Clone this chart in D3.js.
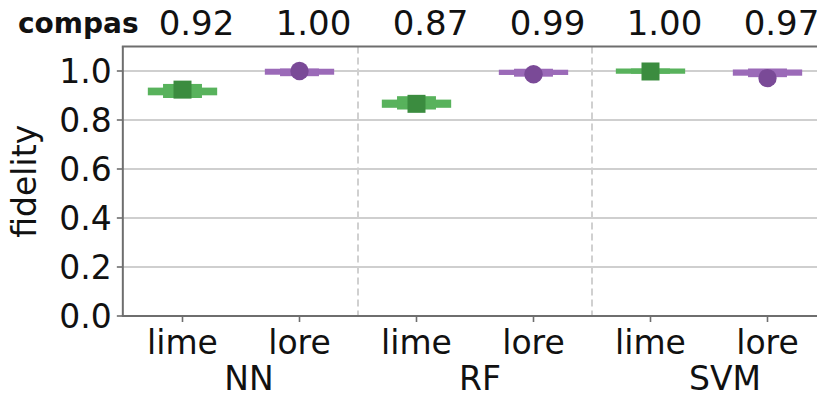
<!DOCTYPE html>
<html>
<head>
<meta charset="utf-8">
<script src="https://cdn.jsdelivr.net/npm/d3@7"></script>
<style>
  html, body { margin: 0; padding: 0; background: #fff; }
  svg { display: block; }
  text { font-family: "DejaVu Sans", sans-serif; fill: #111; }
</style>
</head>
<body>
<svg id="chart" width="817" height="397"></svg>
<script>
// ---- data ----
const dataset = "compas";
const models = ["NN", "RF", "SVM"];
const methods = ["lime", "lore", "lime", "lore", "lime", "lore"];
const scoreLabels = ["0.92", "1.00", "0.87", "0.99", "1.00", "0.97"];
const whiskerLow  = [0.911, 0.995, 0.860, 0.994, 0.999, 0.991];
const whiskerHigh = [0.922, 0.999, 0.873, 0.995, 1.000, 0.996];
const boxLow      = [0.900, 0.989, 0.853, 0.987, 0.999, 0.985];
const boxHigh     = [0.937, 1.000, 0.887, 0.999, 1.000, 1.000];
const means       = [0.924, 1.000, 0.866, 0.987, 0.998, 0.971];
const yTicks = [0.0, 0.2, 0.4, 0.6, 0.8, 1.0];

// ---- style / layout ----
const W = 817, H = 397;
const colors = {
  lime: { band: "#58b25c", mark: "#3b8c3f" },
  lore: { band: "#9b6ab8", mark: "#7a4a97" }
};
const groupLabelOffset = [8, 5, 16];

const svg = d3.select("#chart");
const x = d3.scaleLinear().domain([0, 5]).range([182.5, 767.5]);
const y = d3.scaleLinear().domain([0, 1.1]).range([316, 46.5]);
const unit = x(1) - x(0);
const plotLeft = x(-0.51), plotRight = x(5.51);
const plotTop = y(1.1), plotBottom = y(0);

// grid lines
svg.append("g").selectAll("line").data(yTicks).join("line")
  .attr("x1", plotLeft).attr("x2", plotRight)
  .attr("y1", d => y(d)).attr("y2", d => y(d))
  .attr("stroke", "#cfcfcf").attr("stroke-width", 2);

// dashed dividers
svg.append("g").selectAll("line").data([1.5, 3.5]).join("line")
  .attr("x1", d => x(d)).attr("x2", d => x(d))
  .attr("y1", plotTop).attr("y2", plotBottom)
  .attr("stroke", "#d0d0d0").attr("stroke-width", 2)
  .attr("stroke-dasharray", "7,4");

// marks
const items = methods.map((m, i) => ({
  i, m, wl: whiskerLow[i], wh: whiskerHigh[i], bl: boxLow[i], bh: boxHigh[i], mean: means[i]
}));
const lw = 5;
const g = svg.append("g");
// whisker/cap band
g.selectAll("rect.cap").data(items).join("rect").attr("class", "cap")
  .attr("x", d => x(d.i) - unit * 0.275)
  .attr("width", unit * 0.55)
  .attr("y", d => y(d.wh))
  .attr("height", d => Math.max(0.01, y(d.wl) - y(d.wh)))
  .attr("fill", d => colors[d.m].band)
  .attr("stroke", d => colors[d.m].band).attr("stroke-width", lw);
// box band
g.selectAll("rect.box").data(items).join("rect").attr("class", "box")
  .attr("x", d => x(d.i) - unit * 0.145)
  .attr("width", unit * 0.29)
  .attr("y", d => y(d.bh))
  .attr("height", d => Math.max(0.01, y(d.bl) - y(d.bh)))
  .attr("fill", d => colors[d.m].band)
  .attr("stroke", d => colors[d.m].band).attr("stroke-width", lw);
// mean markers
g.selectAll("path.mean").data(items).join("path").attr("class", "mean")
  .attr("transform", d => `translate(${x(d.i)},${y(d.mean)})`)
  .attr("d", d => d.m === "lime"
    ? d3.symbol(d3.symbolSquare, 18 * 18)()
    : d3.symbol(d3.symbolCircle, Math.PI * 9.2 * 9.2)())
  .attr("fill", d => colors[d.m].mark);

// spines
const spine = "#6e6e6e";
svg.append("line").attr("x1", plotLeft).attr("x2", plotLeft).attr("y1", plotTop).attr("y2", plotBottom)
  .attr("stroke", spine).attr("stroke-width", 2);
svg.append("line").attr("x1", plotLeft - 1).attr("x2", W).attr("y1", plotBottom).attr("y2", plotBottom)
  .attr("stroke", spine).attr("stroke-width", 2);
svg.append("line").attr("x1", plotLeft - 1).attr("x2", W).attr("y1", plotTop).attr("y2", plotTop)
  .attr("stroke", spine).attr("stroke-width", 2);

// y axis ticks
const yAxis = svg.append("g");
yAxis.selectAll("line").data(yTicks).join("line")
  .attr("x1", plotLeft - 6).attr("x2", plotLeft)
  .attr("y1", d => y(d)).attr("y2", d => y(d))
  .attr("stroke", spine).attr("stroke-width", 1.6);
yAxis.selectAll("text").data(yTicks).join("text")
  .attr("x", plotLeft - 11).attr("y", d => y(d)).attr("dy", "0.36em")
  .attr("text-anchor", "end").attr("font-size", 33)
  .text(d => d3.format(".1f")(d));

// x axis ticks
const xAxis = svg.append("g");
xAxis.selectAll("line").data(methods).join("line")
  .attr("x1", (d, i) => x(i)).attr("x2", (d, i) => x(i))
  .attr("y1", plotBottom).attr("y2", plotBottom + 6)
  .attr("stroke", spine).attr("stroke-width", 1.6);
xAxis.selectAll("text").data(methods).join("text")
  .attr("x", (d, i) => x(i)).attr("y", 354)
  .attr("text-anchor", "middle").attr("font-size", 33)
  .text(d => d);

// group labels
svg.append("g").selectAll("text").data(models).join("text")
  .attr("x", (d, i) => x(2 * i + 0.5) + groupLabelOffset[i]).attr("y", 390)
  .attr("text-anchor", "middle").attr("font-size", 33)
  .text(d => d);

// y label
svg.append("text")
  .attr("transform", `translate(36,${(plotTop + plotBottom) / 2}) rotate(-90)`)
  .attr("text-anchor", "middle").attr("font-size", 33)
  .text("fidelity");

// top row
svg.append("text").attr("x", 18).attr("y", 33)
  .attr("font-size", 28).attr("font-weight", "bold").text(dataset);
svg.append("g").selectAll("text").data(scoreLabels).join("text")
  .attr("x", (d, i) => x(i) + 14).attr("y", 35)
  .attr("text-anchor", "middle").attr("font-size", 34)
  .text(d => d);
</script>
</body>
</html>
